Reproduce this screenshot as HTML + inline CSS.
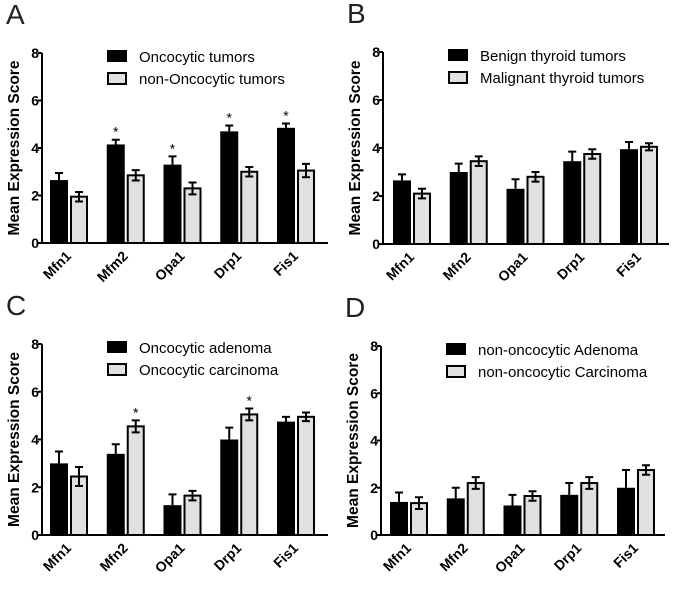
<!DOCTYPE html>
<html><head><meta charset="utf-8"><style>
body{margin:0;background:#fff}
svg{display:block;font-family:"Liberation Sans",Arial,sans-serif}
</style></head><body>
<svg id="c" width="676" height="589" viewBox="0 0 676 589"></svg>
<script>
const categories=["Mfn1","Mfm2","Opa1","Drp1","Fis1"];
const categoriesB=["Mfn1","Mfn2","Opa1","Drp1","Fis1"];
const ticks=[0,2,4,6,8];
const aBlack=[2.65,4.15,3.3,4.7,4.85], aBlackErr=[0.3,0.2,0.35,0.25,0.18];
const aGray=[1.95,2.85,2.3,3.0,3.05], aGrayErr=[0.2,0.22,0.25,0.2,0.28];
const aStars=[false,true,true,true,true];
const bBlack=[2.65,3.0,2.3,3.45,3.95], bBlackErr=[0.25,0.35,0.4,0.4,0.3];
const bGray=[2.1,3.45,2.8,3.75,4.05], bGrayErr=[0.2,0.2,0.2,0.2,0.15];
const cBlack=[3.0,3.4,1.25,4.0,4.75], cBlackErr=[0.5,0.4,0.45,0.5,0.2];
const cGray=[2.45,4.55,1.65,5.05,4.95], cGrayErr=[0.4,0.25,0.2,0.25,0.18];
const cStars=[false,true,false,true,false];
const dBlack=[1.4,1.55,1.25,1.7,2.0], dBlackErr=[0.4,0.45,0.45,0.5,0.75];
const dGray=[1.35,2.2,1.65,2.2,2.75], dGrayErr=[0.25,0.25,0.2,0.25,0.2];
const NS="http://www.w3.org/2000/svg";
const svg=document.getElementById('c');
function mk(tag,attrs,parent,text){const e=document.createElementNS(NS,tag);for(const k in attrs)e.setAttribute(k,attrs[k]);if(text!==undefined)e.textContent=text;(parent||svg).appendChild(e);return e;}
function panel(p){
  const g=mk('g',{});
  
  
  const yS=v=>p.y0-(p.y0-p.y8)*v/8;
  const L=mk('text',{x:p.ox-36,y:p.y8-29,'font-size':28,fill:'#222'},g,p.letter);
  
  const ax=mk('path',{d:`M${p.ox},${p.y8} V${p.y0} H${p.xend}`,stroke:'#000','stroke-width':2,fill:'none'},g);
  
  ticks.forEach(t=>{
    mk('line',{x1:p.ox-4,x2:p.ox,y1:yS(t),y2:yS(t),stroke:'#000','stroke-width':2},g);
    const tl=mk('text',{x:p.ox-3,y:yS(t)+5,'font-size':14,'font-weight':'bold','text-anchor':'end'},g,t);
    
  });
  const yt=mk('text',{transform:`translate(${p.ox-23},${(p.y0+p.y8)/2}) rotate(-90)`,'font-size':15.5,'font-weight':'bold','text-anchor':'middle'},g,'Mean Expression Score');
  
  const pitch=56.75,bw=18;
  p.cats.forEach((c,i)=>{
    const x0=p.ox+p.off+i*pitch;
    const bb=mk('rect',{x:x0,y:yS(p.black[i]),width:bw,height:p.y0-yS(p.black[i]),fill:'#000'},g);
    
    const ex=x0+bw/2,et=yS(p.black[i]+p.bErr[i]);
    mk('path',{d:`M${ex},${yS(p.black[i])} V${et} M${ex-4},${et} H${ex+4}`,stroke:'#000','stroke-width':2},g);
    const gx=x0+bw+2;
    const gb=mk('rect',{x:gx+1,y:yS(p.gray[i]),width:bw-2,height:p.y0-yS(p.gray[i]),fill:'#e0e0e0',stroke:'#000','stroke-width':2},g);
    
    const gx2=gx+bw/2,gt=yS(p.gray[i]+p.gErr[i]),gbm=yS(p.gray[i]-p.gErr[i]);
    mk('path',{d:`M${gx2},${gbm} V${gt} M${gx2-4},${gt} H${gx2+4} M${gx2-4},${gbm} H${gx2+4}`,stroke:'#000','stroke-width':2},g);
    if(p.stars&&p.stars[i]){
      const sx=p.starOnGray?gx2:ex,sy=p.starOnGray?gt:et;
      const s=mk('text',{x:sx,y:sy-3,'font-size':14,'text-anchor':'middle'},g,'*');
      
    }
    const lx=x0+bw+4,ly=p.y0+14;
    const xl=mk('text',{transform:`translate(${lx},${ly}) rotate(-45)`,'font-size':14,'font-weight':'bold','text-anchor':'end'},g,c);
    
  });
  const lgx=p.ox+65,lgy=p.y8-3;
  const l1=mk('rect',{x:lgx,y:lgy,width:20,height:12,fill:'#000'},g);
  
  const t1=mk('text',{x:lgx+32,y:lgy+12,'font-size':15},g,p.leg[0]);
  
  const l2=mk('rect',{x:lgx+1,y:lgy+23,width:18,height:11,fill:'#e0e0e0',stroke:'#000','stroke-width':2},g);
  
  const t2=mk('text',{x:lgx+32,y:lgy+34,'font-size':15},g,p.leg[1]);
  
}
panel({letter:'A',ox:42,y8:53,y0:243,xend:328,off:8,cats:categories,black:aBlack,bErr:aBlackErr,gray:aGray,gErr:aGrayErr,stars:aStars,starOnGray:false,leg:['Oncocytic tumors','non-Oncocytic tumors']});
panel({letter:'B',ox:383,y8:52,y0:244,xend:669,off:10,cats:categoriesB,black:bBlack,bErr:bBlackErr,gray:bGray,gErr:bGrayErr,leg:['Benign thyroid tumors','Malignant thyroid tumors']});
panel({letter:'C',ox:42,y8:344,y0:535,xend:328,off:8,cats:categoriesB,black:cBlack,bErr:cBlackErr,gray:cGray,gErr:cGrayErr,stars:cStars,starOnGray:true,leg:['Oncocytic adenoma','Oncocytic carcinoma']});
panel({letter:'D',ox:381,y8:346,y0:535,xend:665,off:9,cats:categoriesB,black:dBlack,bErr:dBlackErr,gray:dGray,gErr:dGrayErr,leg:['non-oncocytic Adenoma','non-oncocytic Carcinoma']});
</script>
</body></html>
